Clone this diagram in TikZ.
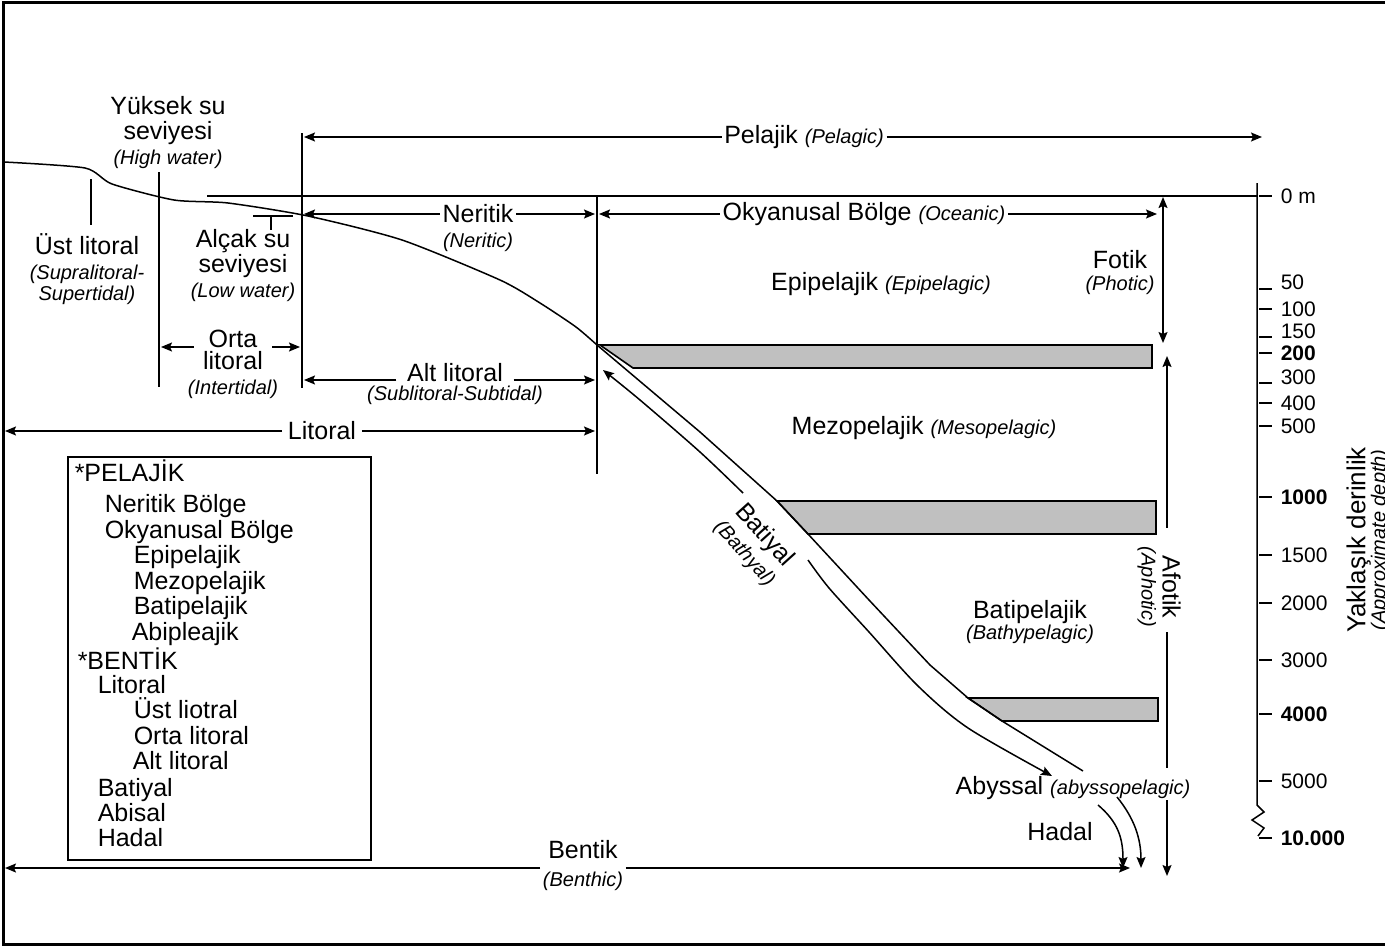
\documentclass[tikz,border=0pt]{standalone}
\usepackage{fontspec}
\setmainfont{Liberation Sans}
\usetikzlibrary{positioning, arrows.meta}

\definecolor{bandgray}{RGB}{192,192,192}
\newcommand{\mainfs}{\fontsize{12.5}{12.5}\selectfont}
\newcommand{\subfs}{\fontsize{10}{11}\selectfont\itshape}
\newcommand{\depthfs}{\fontsize{10.5}{11}\selectfont}

\tikzset{
	>={Stealth[length=5.5pt, width=4.5pt, inset=1pt]}, % filled arrow heads
	node distance=14pt, % centre to centre, for the names in brackets
	lbl/.style={font=\mainfs, inner sep=1pt, align=center}, % turkish zone names
	eng/.style={font=\subfs, inner sep=1pt}, % english zone names in brackets
	band/.style={draw, line width=0.8pt, fill=bandgray}, % grey layers at 200, 1000 and 4000 m
	legendentry/.style={font=\mainfs, anchor=west, inner sep=0pt, text height=9pt, text depth=2.5pt},
	scaletick/.style={line width=0.75pt}, % ticks of the depth scale
}

\begin{document}
\begin{tikzpicture}[x=0.5pt, y=-0.5pt, line width=0.75pt]
	\useasboundingbox (0,0) rectangle (1385,947);
	\draw[line width=1.5pt] (1385,3) -- (3,3) -- (3,944) -- (1385,944);

	% grey layers
	\draw[band] (600,345) -- (1152,345) -- (1152,368) -- (633,368) -- cycle;
	\draw[band] (777,501) -- (1156,501) -- (1156,534) -- (808,534) -- cycle;
	\draw[band] (968,698) -- (1158,698) -- (1158,721) -- (1002,721) -- cycle;

	% sea bed
	\draw plot[smooth, tension=0.4] coordinates {(4,162) (85,168) (112,184) (174,200) (228,203) (308,216) (402,240) (500,280) (540,303) (576,327) (597,345)};
	\draw (597,345) -- (700,432) -- (777,501) -- (808,534) -- (869,600) -- (930,665) -- (968,698) -- (1002,721) -- (1083,771);

	% boundaries
	\coordinate (hwT) at (159,172); \coordinate (hwB) at (159,387);
	\coordinate (lwT) at (302,133); \coordinate (lwB) at (302,388);
	\coordinate (shT) at (597,196); \coordinate (shB) at (597,474);
	\coordinate (surfL) at (207,196); \coordinate (surfR) at (1257,196);
	\draw (hwT) -- (hwB);
	\draw (lwT) -- (lwB);
	\draw (shT) -- (shB);
	\draw (surfL) -- (surfR);
	\draw (91,179) -- (91,225);
	\draw (253,216) -- (293,216) (271,216) -- (271,230);

	% shore labels
	\node[lbl] (hw) at (168,133) {Yüksek su\\seviyesi\\{\subfs (High water)}};
	\node[lbl] (ust) at (87,269) {Üst litoral\\{\subfs (Supralitoral-}\\[-2pt]{\subfs Supertidal)}};
	\node[lbl] (lw) at (243,266) {Alçak su\\seviyesi\\{\subfs (Low water)}};
	\node[lbl, inner xsep=7pt] (orta) at (233,339) {Orta};
	\node[lbl, below of=orta, node distance=18pt] (ortaEn) {litoral\\{\subfs (Intertidal)}};
	\coordinate (ortaL) at (161,347); \coordinate (ortaR) at (300,347);
	\draw[->] (orta.west |- ortaL) -- (ortaL);
	\draw[->] (orta.east |- ortaR) -- (ortaR);

	% zone extents
	\node[lbl] (pel) at (804,137) {Pelajik {\subfs (Pelagic)}};
	\draw[->] (pel) -- (304,137);
	\draw[->] (pel) -- (1262,137);
	\node[lbl] (ner) at (478,214) {Neritik};
	\node[eng, below of=ner] (nerEn) {(Neritic)};
	\draw[->] (ner) -- (304,214);
	\draw[->] (ner) -- (595,214);
	\node[lbl] (oky) at (864,214) {Okyanusal Bölge {\subfs (Oceanic)}};
	\draw[->] (oky) -- (599,214);
	\draw[->] (oky) -- (1157,214);
	\node[lbl, inner xsep=5pt] (alt) at (455,373) {Alt litoral};
	\node[eng, below of=alt, node distance=11pt] (altEn) {(Sublitoral-Subtidal)};
	\coordinate (altL) at (304,380); \coordinate (altR) at (595,380);
	\draw[->] (alt.west |- altL) -- (altL);
	\draw[->] (alt.east |- altR) -- (altR);
	\node[lbl, inner xsep=2.5pt] (lit) at (322,431) {Litoral};
	\draw[->] (lit) -- (5,431);
	\draw[->] (lit) -- (595,431);
	\node[lbl] (bent) at (583,866) {Bentik\\[1.5pt]{\subfs (Benthic)}};
	\draw[->] (bent.west |- 0,868) -- (5,868);
	\draw[->] (bent.east |- 0,868) -- (1130,868);

	% open water
	\node[lbl] (epi) at (881,284) {Epipelajik {\subfs (Epipelagic)}};
	\node[lbl] (mezo) at (924,428) {Mezopelajik {\subfs (Mesopelagic)}};
	\node[lbl] (bati) at (1030,622) {Batipelajik\\[-2pt]{\subfs (Bathypelagic)}};
	\node[lbl] (abys) at (1073,788) {Abyssal {\subfs (abyssopelagic)}};
	\node[lbl] (hadal) at (1060,832) {Hadal};

	% light
	\node[lbl] (fot) at (1120,273) {Fotik\\[-1.5pt]{\subfs (Photic)}};
	\coordinate (fotT) at (1163,197); \coordinate (fotB) at (1163,343);
	\draw[<->] (fotT) -- (fotB);
	\node[lbl, rotate=-90] (afot) at (1159,587) {Afotik\\[-2pt]{\subfs (Aphotic)}};
	\coordinate (af1) at (1167,356); \coordinate (af2) at (1167,528);
	\coordinate (af3) at (1167,632); \coordinate (af4) at (1167,768);
	\coordinate (af5) at (1167,800); \coordinate (af6) at (1167,876);
	\draw[<-] (af1) -- (af2);
	\draw (af3) -- (af4);
	\draw[->] (af5) -- (af6);

	% slope
	\node[lbl, rotate=-48] (batiyal) at (755,544) {Batiyal\\[0.5pt]{\subfs (Bathyal)}};
	\draw[->] plot[smooth, tension=0.5] coordinates {(743,493) (700,452) (640,400) (603,370)};
	\draw[->] plot[smooth, tension=0.5] coordinates {(808,560) (829,588) (869,632) (918,686) (968,728) (1052,776)};
	\draw[->] (1098,805) .. controls (1118,822) and (1123,838) .. (1123,868);
	\draw[->] (1117,797) .. controls (1134,818) and (1141,838) .. (1141,868);

	% depth scale
	\draw (1257,183) -- (1257,805) -- (1264,812) -- (1252,820) -- (1264,828) -- (1258,836);
	\foreach \lab/\yy/\ty/\fnt in {0 m/196/196/\relax, 50/282/289/\relax, 100/309/309/\relax,
			150/331/337/\relax, 200/353/353/\bfseries, 300/377/383/\relax, 400/403/403/\relax,
			500/426/426/\relax, 1000/497/497/\bfseries, 1500/555/555/\relax, 2000/603/603/\relax,
			3000/660/660/\relax, 4000/714/714/\bfseries, 5000/781/781/\relax, 10.000/838/838/\bfseries}
	{
		\draw[scaletick] (1259,\ty) -- (1272,\ty);
		\node[font=\depthfs\fnt, anchor=west, inner sep=0pt] (d\yy) at (1280,\yy) {\lab};
	}
	\node[lbl, rotate=90, font=\fontsize{13}{13}\selectfont] (depth) at (1368,540) {Yaklaşık derinlik\\[-3pt]{\subfs (Approximate depth)}};

	% legend
	\draw (68,457) rectangle (371,860);
	\foreach \txt/\xx/\yy [count=\i] in {*PELAJİK/74/475, Neritik Bölge/104/506, Okyanusal Bölge/104/532,
			Epipelajik/133/557, Mezopelajik/133/583, Batipelajik/133/608, Abipleajik/131/634,
			*BENTİK/77/663, Litoral/97/687, Üst liotral/133/712, Orta litoral/133/738,
			Alt litoral/132/763, Batiyal/97/790, Abisal/97/815, Hadal/97/840}
		\node[legendentry] (leg\i) at (\xx,\yy) {\txt};
\end{tikzpicture}
\end{document}
